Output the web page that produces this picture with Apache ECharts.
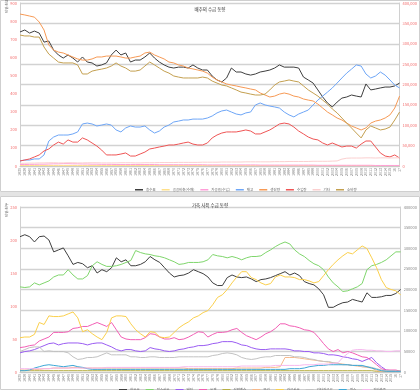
<!DOCTYPE html>
<html><head><meta charset="utf-8">
<script src="https://cdn.jsdelivr.net/npm/echarts@6/dist/echarts.min.js"></script>
<style>html,body{margin:0;padding:0;background:#fff}#c{width:420px;height:390px}</style>
</head><body><div id="c"></div>
<script>
const categories = ["1938","1939","1940","1941","1942","1943","1944","1945","1946","1947","1948","1949","1950","1951","1952","1953","1954","1955","1956","1957","1958","1959","1960","1961","1962","1963","1964","1965","1966","1967","1968","1969","1970","1971","1972","1973","1974","1975","1976","1977","1978","1979","1980","1981","1982","1983","1984","1985","1986","1987","1988","1989","1990","1991","1992","1993","1994","1995","1996","1997","1998","1999","2000","2001","2002","2003","2004","2005","2006","2007","2008","2009","2010","2011","2012","2013","2014","2015","16","17"];

const topNames = ["총수요","공공비축(수매)","가공용(수입)","재고","생산량","수입량","기타","소비량"];
const topColors = ["#3f3f3f","#ffe08a","#ff9ed8","#6ea6f7","#f79a55","#ef5555","#fbcfcf","#c4a050"];
const topBlack = [740,751,734,745,734,684,690,640,613,596,613,596,574,602,574,569,552,558,569,613,640,613,624,574,585,585,602,624,596,574,558,546,541,546,546,541,558,541,530,530,497,475,464,486,541,519,519,508,502,508,519,524,530,541,558,546,546,546,541,491,475,458,420,381,348,326,353,375,381,392,386,381,453,420,425,431,436,436,442,458];
const topYellow = [3,3,3,3,3,3,3,3,3,3,3,3,3,3,3,3,3,3,3,3,3,3,3,3,3,3,3,3,3,3,3,3,3,3,3,3,3,3,3,3,2,2,2,2,2,2,2,2,2,2,2,2,2,2,2,2,2,2,2,2,2,2,2,2,2,2,2,2,2,2,2,2,2,2,2,2,2,2,2,2];
const topPink = [8,8,9,9,10,10,11,12,12,13,13,12,12,11,11,10,10,9,9,9,8,8,8,8,8,8,8,8,8,7,7,7,7,7,7,7,7,7,7,6,6,6,6,6,6,6,6,6,6,6,5,5,5,5,5,5,5,5,5,5,5,5,4,4,4,4,4,4,4,4,4,4,4,4,3,3,3,3,3,3];
const topBlue = [28,33,33,39,39,61,138,160,171,171,171,177,188,232,237,232,221,226,232,226,199,188,210,221,215,215,221,199,182,193,215,226,243,248,254,254,259,259,259,265,276,293,304,309,298,287,282,293,298,337,348,337,331,326,320,298,282,271,287,298,309,337,364,386,408,431,458,486,513,535,558,552,508,486,497,519,502,475,447,431];
const topOrange = [839,834,828,822,795,751,668,640,629,624,613,602,591,585,585,591,602,602,607,607,607,602,596,596,602,607,624,629,613,602,591,574,569,558,552,541,536,530,524,513,491,475,464,453,447,442,436,431,425,420,403,392,381,386,397,403,397,386,381,370,364,359,342,320,298,282,265,254,237,221,210,199,210,237,248,254,265,282,320,386];
const topRed = [28,33,39,50,61,83,94,116,132,121,144,132,132,155,144,127,110,88,61,61,61,66,72,55,55,66,77,94,99,105,110,116,116,121,127,132,121,116,116,127,155,171,182,188,188,188,193,199,193,177,177,188,199,215,232,237,232,215,193,177,160,149,144,127,116,127,116,105,110,110,99,121,138,138,105,72,55,50,61,44];
const topEtc = [15,15,16,16,17,17,18,18,17,17,18,18,17,17,18,18,18,17,17,17,17,18,18,18,17,17,18,18,18,19,19,19,19,20,20,20,20,20,21,21,21,21,22,22,22,22,22,23,23,23,23,23,23,24,24,24,25,25,25,25,25,26,26,26,26,27,28,38,43,44,44,44,45,45,44,45,45,44,45,45];
const topBrown = [723,718,718,712,712,657,618,596,574,569,569,569,558,508,508,524,530,535,541,552,569,552,541,524,524,530,552,574,558,541,524,513,497,491,486,486,486,486,491,486,469,458,447,442,431,420,408,403,397,392,392,397,420,447,464,469,475,469,464,442,420,403,386,364,342,315,293,265,237,210,182,155,199,221,210,199,204,215,254,298];

const botNames = ["한육우","젖소사육","돼지","육계","산란계수","오리","가금사육","기타가금류","염소","기타축종"];
const botColors = ["#3f3f3f","#7fd66c","#9a5cf2","#f25fb5","#b8b044","#f7b98a","#fbd04c","#c2c2c2","#3da7d6","#f6b8ee"];
const botBlack = [205,208,205,197,205,206,200,182,185,188,176,163,166,164,158,161,150,155,152,158,173,167,170,161,161,163,167,175,170,166,158,150,144,146,147,150,155,152,149,144,135,131,131,143,147,144,143,144,141,137,140,141,143,146,149,152,147,150,146,137,134,132,126,117,98,98,102,105,106,110,108,106,120,113,113,114,116,116,119,125];
const botGreen = [129,128,129,135,132,135,138,144,147,147,155,147,141,141,146,161,167,163,160,160,161,163,166,169,184,181,179,178,176,175,173,170,167,163,164,166,166,166,167,170,178,176,175,173,175,173,170,173,175,175,176,181,185,190,194,197,194,185,179,175,169,164,161,155,144,135,129,122,123,126,129,134,155,161,163,166,170,176,182,182];
const botPurple = [29,31,32,34,37,40,43,44,41,43,44,44,44,43,41,43,44,44,41,38,34,32,34,34,32,31,32,37,35,34,32,31,32,34,35,37,38,40,40,41,43,44,46,46,46,44,41,40,37,35,34,34,35,35,35,35,34,32,32,31,31,29,29,28,26,26,25,23,22,20,19,16,19,22,14,8,3,2,1,1];
const botPink = [37,38,40,41,47,50,53,60,60,60,61,66,67,69,69,72,75,72,69,75,64,53,50,49,49,49,52,58,57,53,50,50,52,49,50,53,57,61,60,53,57,60,60,61,64,66,60,55,52,49,53,58,61,66,73,73,70,69,67,64,63,60,52,43,35,31,34,29,31,29,26,23,22,17,11,5,3,3,3,1];
const botOlive = [2,2,2,2,2,2,2,2,2,2,2,2,2,2,2,2,2,2,2,2,2,2,2,2,2,2,2,2,2,2,2,2,2,2,2,2,2,2,2,2,2,2,2,2,2,2,2,2,2,2,2,2,2,2,2,2,2,2,2,2,2,2,2,2,2,2,2,2,2,2,2,2,2,2,1,1,1,1,1,1];
const botOrange = [3,3,3,4,4,5,5,6,6,6,6,7,7,6,6,6,6,6,6,6,6,6,6,6,6,6,6,6,6,6,6,6,6,6,6,5,5,5,5,5,5,5,5,5,5,6,6,6,6,6,6,7,7,7,8,22,22,22,21,20,19,18,17,16,15,14,13,12,11,10,9,8,7,6,2,1,1,1,1,1];
const botYellow = [52,53,53,57,75,72,85,84,84,85,88,91,82,61,64,58,53,49,60,82,85,85,84,73,64,58,53,61,60,53,52,53,60,67,72,76,82,85,90,93,102,113,117,125,135,144,152,152,143,140,135,132,134,144,147,144,144,143,140,140,138,135,137,146,155,163,170,176,181,179,185,191,187,173,158,140,128,125,123,117];
const botGrey = [31,34,37,38,38,31,32,31,31,31,29,23,19,20,22,22,23,26,29,26,26,26,26,23,23,22,22,23,23,22,22,22,22,23,23,23,23,23,23,23,25,26,28,29,28,26,22,20,19,20,22,23,23,25,25,25,25,23,23,22,20,19,17,16,16,14,13,11,11,10,10,8,8,7,5,3,2,2,1,1];
const botTeal = [2,2,3,6,8,10,11,10,9,8,9,10,8,7,5,4,4,4,4,4,4,4,4,4,4,4,4,4,4,4,4,4,4,4,4,4,4,4,4,4,4,4,4,4,4,4,4,4,4,4,4,4,4,4,4,4,5,5,5,6,8,9,10,10,11,11,11,11,11,10,10,10,8,6,4,2,1,1,1,1];
const botEtc = [5,5,5,5,5,5,5,6,6,6,6,6,6,6,6,6,6,6,7,7,7,7,7,7,7,7,7,7,7,7,7,7,7,7,8,8,8,8,8,8,8,8,8,8,8,8,9,9,9,9,9,9,9,10,10,10,10,10,10,11,11,11,12,12,12,13,14,22,28,33,34,34,33,33,32,32,31,31,32,32];

const topLeftTicks = {min:0, max:900, interval:100};
const topRightTicks = {min:0, max:400000, interval:50000};
const botLeftTicks = {min:0, max:250, interval:50};
const botRightTicks = {min:0, max:400000, interval:50000};

const FONT = '"Noto Sans CJK KR", "Noto Sans", sans-serif';
const chart = echarts.init(document.getElementById('c'), null, {renderer:'canvas'});

const topData = [topBlack, topYellow, topPink, topBlue, topOrange, topRed, topEtc, topBrown];
const botData = [botBlack, botGreen, botPurple, botPink, botOlive, botOrange, botYellow, botGrey, botTeal, botEtc];

function xAxisFor(gi){
  return {gridIndex:gi, type:'category', data:categories, boundaryGap:false,
    axisLabel:{rotate:90, interval:0, fontSize:3.6, color:'#777', margin:2, fontFamily:FONT},
    axisTick:{show:false}, axisLine:{lineStyle:{color:'#c8c8c8', width:1}}};
}
function yLeft(gi, t){
  return {gridIndex:gi, type:'value', position:'left', min:t.min, max:t.max, interval:t.interval,
    axisLabel:{fontSize:4, color:'#f26d6d', margin:3, fontFamily:FONT},
    axisLine:{show:true, lineStyle:{color:'#d0d0d0'}}, axisTick:{show:false}, splitLine:{show:false}};
}
function yRight(gi, t, comma, col){
  return {gridIndex:gi, type:'value', position:'right', min:t.min, max:t.max, interval:t.interval,
    axisLabel:{fontSize:4, color:col, margin:3, fontFamily:FONT,
      formatter: v => comma ? v.toLocaleString('en-US') : String(v)},
    axisLine:{show:true, lineStyle:{color:'#d0d0d0'}}, axisTick:{show:false},
    splitLine:{show:true, lineStyle:{color:'#d2d2d2', width:1.3}}};
}

const series = [];
topNames.forEach((n,i)=>series.push({name:n, type:'line', xAxisIndex:0, yAxisIndex:0, data:topData[i],
  showSymbol:false, lineStyle:{width:1, color:topColors[i]}, itemStyle:{color:topColors[i]}, z:2+i}));
botNames.forEach((n,i)=>series.push({name:n, type:'line', xAxisIndex:1, yAxisIndex:2, data:botData[i],
  showSymbol:false, lineStyle:{width:1, color:botColors[i]}, itemStyle:{color:botColors[i]}, z:2+i}));

chart.setOption({
  animation:false,
  backgroundColor:'#ffffff',
  textStyle:{fontFamily:FONT},
  title:[
    {text:'배추의 수급 동향', left:'center', top:2, textStyle:{fontSize:4.5, fontWeight:'normal', color:'#333', fontFamily:FONT}},
    {text:'가축 사육 수급 동향', left:'center', top:198, textStyle:{fontSize:4.5, fontWeight:'normal', color:'#333', fontFamily:FONT}}
  ],
  grid:[
    {left:20, right:16, top:3, height:163},
    {left:20, right:17, top:207, height:165}
  ],
  xAxis:[xAxisFor(0), xAxisFor(1)],
  yAxis:[yLeft(0, topLeftTicks), yRight(0, topRightTicks, true, '#f26d6d'), yLeft(1, botLeftTicks), yRight(1, botRightTicks, false, '#888')],
  legend:[
    {data:topNames, left:130, top:183, icon:'rect', itemWidth:8, itemHeight:1.5, itemGap:6,
      textStyle:{fontSize:3.5, color:'#666', fontFamily:FONT, padding:[0,0,0,-2]}},
    {data:botNames, left:114, top:383, icon:'rect', itemWidth:8, itemHeight:1.5, itemGap:6,
      textStyle:{fontSize:3.5, color:'#666', fontFamily:FONT, padding:[0,0,0,-2]}}
  ],
  graphic:[
    {type:'rect', shape:{x:0.5, y:0.5, width:419, height:191}, style:{fill:'none', stroke:'#cfcfcf', lineWidth:1}, silent:true},
    {type:'rect', shape:{x:0, y:192, width:420, height:4}, style:{fill:'#e4e4e4'}, silent:true},
    {type:'rect', shape:{x:0.5, y:196.5, width:419, height:193}, style:{fill:'none', stroke:'#cfcfcf', lineWidth:1}, silent:true},
    {type:'text', x:5, y:13, rotation:Math.PI/2, style:{text:'단위:천원', fontSize:3.6, fill:'#555', fontFamily:FONT}, silent:true},
    {type:'text', x:5, y:217, rotation:Math.PI/2, style:{text:'단위:천두', fontSize:3.6, fill:'#555', fontFamily:FONT}, silent:true}
  ],
  series:series
});
</script></body></html>
